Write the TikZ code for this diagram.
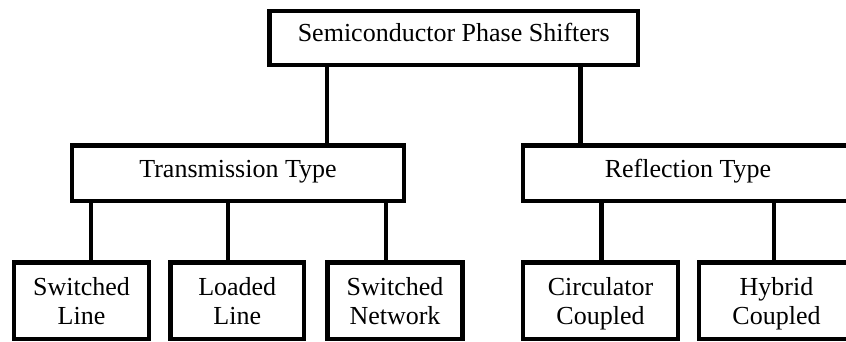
\documentclass[tikz,border=0pt]{standalone}
\usepackage{fontspec}
\setmainfont{Liberation Serif}
\newcommand\topst{\rule{0pt}{25pt}}
\newcommand\botst{\rule[-6.4pt]{0pt}{6.4pt}}
\newcommand\onest{\rule[-12pt]{0pt}{32pt}}
\begin{document}
\begin{tikzpicture}[x=1pt,y=-1pt,
  box/.style={draw=black, line width=4.4pt, inner sep=0pt, align=center,
    font=\fontsize{26}{29}\selectfont, fill=white},
  link/.style={draw=black, line width=4.4pt}]
\useasboundingbox (0,0) rectangle (846,342);
\clip (0,0) rectangle (846,342);
\fill[white] (0,0) rectangle (846,342);
% boxes
\node[box, minimum width=368.5pt, minimum height=54pt] (top) at (453.75,38) {\onest Semiconductor Phase Shifters};
\node[box, minimum width=332pt, minimum height=55.5pt] (trans) at (238,173.25) {\onest Transmission Type};
\node[box, minimum width=330pt, minimum height=55.5pt] (refl) at (688,173.25) {\onest Reflection Type};
\node[box, minimum width=135pt, minimum height=76.5pt] (sl) at (81.5,300.75) {\topst Switched\\Line\botst};
\node[box, minimum width=133.5pt, minimum height=76.5pt] (ll) at (237.25,300.75) {\topst Loaded\\Line\botst};
\node[box, minimum width=135pt, minimum height=76.5pt] (sn) at (395,300.75) {\topst Switched\\Network\botst};
\node[box, minimum width=155pt, minimum height=76.5pt] (cc) at (600.5,300.75) {\topst Circulator\\Coupled\botst};
\node[box, minimum width=155pt, minimum height=76.5pt] (hc) at (776.5,300.75) {\topst Hybrid\\Coupled\botst};
% connector columns
\coordinate (xa) at (327,0);
\coordinate (xb) at (580.5,0);
\coordinate (xc) at (91,0);
\coordinate (xd) at (228,0);
\coordinate (xe) at (386,0);
\coordinate (xf) at (601.5,0);
\coordinate (xg) at (774,0);
% connectors
\draw[link] (top.south -| xa) -- (trans.north -| xa);
\draw[link] (top.south -| xb) -- (refl.north -| xb);
\draw[link] (trans.south -| xc) -- (sl.north -| xc);
\draw[link] (trans.south -| xd) -- (ll.north -| xd);
\draw[link] (trans.south -| xe) -- (sn.north -| xe);
\draw[link] (refl.south -| xf) -- (cc.north -| xf);
\draw[link] (refl.south -| xg) -- (hc.north -| xg);
\end{tikzpicture}
\end{document}
